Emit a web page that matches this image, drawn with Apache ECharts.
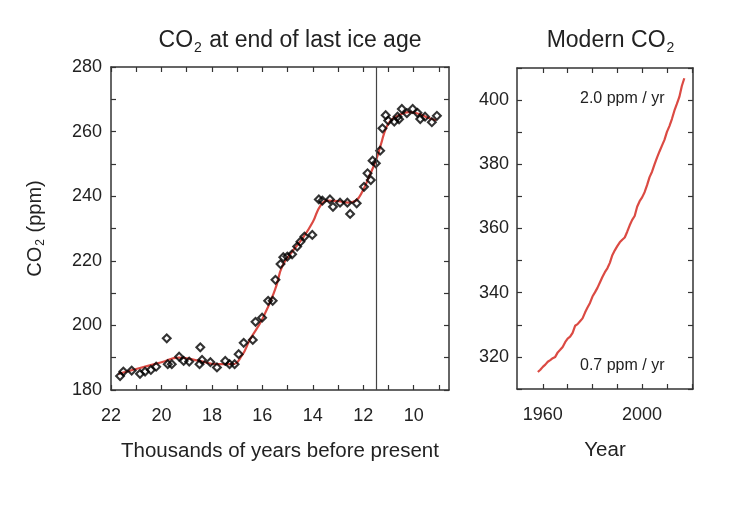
<!DOCTYPE html>
<html>
<head>
<meta charset="utf-8">
<script src="https://cdn.jsdelivr.net/npm/echarts@6/dist/echarts.min.js"></script>
<style>
  html, body { margin: 0; padding: 0; background: #fff; }
  #chart { width: 743px; height: 508px; }
</style>
</head>
<body>
<div id="chart"></div>
<script>
// ice core samples: [thousand years before present, ppm]
const iceAge = [21.64, 21.51, 21.18, 20.85, 20.65, 20.42, 20.21, 19.79, 19.75, 19.59,
  19.30, 19.12, 18.90, 18.49, 18.46, 18.39, 18.06, 17.80, 17.47, 17.30,
  17.10, 16.94, 16.74, 16.38, 16.27, 16.01, 15.77, 15.59, 15.48, 15.28,
  15.17, 15.01, 14.82, 14.62, 14.49, 14.33, 14.02, 13.76, 13.62, 13.32,
  13.20, 12.92, 12.63, 12.52, 12.26, 11.97, 11.83, 11.70, 11.63, 11.50,
  11.33, 11.24, 11.11, 11.01, 10.77, 10.64, 10.58, 10.47, 10.27, 10.04,
  9.85, 9.74, 9.55, 9.28, 9.08]
const iceCo2 = [184.3, 185.7, 186.0, 185.0, 185.7, 186.2, 187.2, 196.0, 188.0, 188.0,
  190.3, 189.0, 188.8, 188.0, 193.2, 189.3, 188.6, 187.0, 189.0, 188.0,
  188.0, 191.1, 194.6, 195.5, 201.1, 202.4, 207.6, 207.6, 214.1, 219.0,
  221.1, 221.3, 222.0, 224.4, 225.9, 227.5, 228.0, 239.0, 238.6, 239.0,
  236.7, 238.0, 238.0, 234.5, 237.8, 242.9, 247.1, 245.0, 251.0, 250.2,
  254.1, 261.0, 265.1, 263.4, 263.1, 264.6, 263.8, 267.0, 265.7, 267.0,
  265.8, 263.9, 264.6, 262.9, 264.9]

// smoothed fit (red curve)
const fitAge = [21.7, 21.0, 20.0, 19.3, 18.5, 17.8, 17.2, 16.8, 16.5, 16.0,
  15.5, 15.2, 14.8, 14.4, 14.0, 13.7, 13.4, 13.0, 12.6, 12.3,
  12.0, 11.8, 11.5, 11.3, 11.1, 10.9, 10.6, 10.2, 9.8, 9.4, 9.1]
const fitCo2 = [185.0, 186.5, 188.6, 190.0, 189.0, 188.0, 188.0, 190.8, 195.5, 202.0,
  211.0, 218.5, 223.0, 227.0, 232.0, 237.0, 238.6, 238.5, 238.0, 238.6,
  242.0, 245.5, 251.0, 256.0, 261.0, 263.5, 265.0, 266.0, 265.5, 264.2, 263.5]

// Mauna Loa annual means
const years = [1958, 1959, 1960, 1961, 1962, 1963, 1964, 1965, 1966, 1967,
  1968, 1969, 1970, 1971, 1972, 1973, 1974, 1975, 1976, 1977,
  1978, 1979, 1980, 1981, 1982, 1983, 1984, 1985, 1986, 1987,
  1988, 1989, 1990, 1991, 1992, 1993, 1994, 1995, 1996, 1997,
  1998, 1999, 2000, 2001, 2002, 2003, 2004, 2005, 2006, 2007,
  2008, 2009, 2010, 2011, 2012, 2013, 2014, 2015, 2016, 2017]
const modernCo2 = [315.3, 316.0, 316.9, 317.6, 318.5, 319.0, 319.6, 320.0, 321.4, 322.2,
  323.1, 324.6, 325.7, 326.3, 327.5, 329.7, 330.2, 331.1, 332.0, 333.8,
  335.4, 336.8, 338.8, 340.1, 341.5, 343.2, 344.9, 346.4, 347.6, 349.3,
  351.7, 353.2, 354.5, 355.7, 356.5, 357.2, 359.0, 361.0, 362.7, 363.9,
  366.8, 368.5, 369.7, 371.3, 373.5, 376.0, 377.7, 380.0, 382.1, 384.0,
  385.8, 387.6, 390.1, 391.9, 394.1, 396.7, 398.8, 401.0, 404.4, 406.8]

const ageTicks = [9, 10, 11, 12, 13, 14, 15, 16, 17, 18, 19, 20, 21, 22]
const ageLabels = [10, 12, 14, 16, 18, 20, 22]
const iceLabels = [180, 200, 220, 240, 260, 280]
const yearTicks = [1960, 1970, 1980, 1990, 2000, 2010, 2020]
const yearLabels = [1960, 2000]
const modernLabels = [320, 340, 360, 380, 400]
const iceBoundary = 11.5

const FONT = 'Liberation Sans, Arial, sans-serif'
const TXT = '#222'
const AX = '#333'

function subStyle (size) {
  return {
    a: { fontSize: size, color: TXT, fontFamily: FONT, fontWeight: 'normal' },
    s: { fontSize: Math.round(size * 0.6), color: TXT, fontFamily: FONT, fontWeight: 'normal', padding: [Math.round(size * 0.6), 1, 0, 1] }
  }
}

function boxAxis (opts) {
  return Object.assign({
    type: 'value',
    axisLine: { show: true, onZero: false, lineStyle: { color: AX, width: 1.5 } },
    axisTick: { show: true, inside: true, length: 5, lineStyle: { color: AX, width: 1.2 } },
    axisLabel: { show: false },
    splitLine: { show: false }
  }, opts)
}

function labels (values, margin) {
  return {
    show: true,
    customValues: values,
    color: TXT,
    fontSize: 18,
    fontFamily: FONT,
    margin: margin,
    formatter: v => String(v)
  }
}

const chart = echarts.init(document.getElementById('chart'))

const option = {
  animation: false,
  backgroundColor: '#fff',
  title: [
    {
      text: '{a|CO}{s|2}{a| at end of last ice age}',
      left: 285, top: 22, textAlign: 'center',
      textStyle: { rich: subStyle(23) }
    },
    {
      text: '{a|Modern CO}{s|2}',
      left: 606, top: 22, textAlign: 'center',
      textStyle: { rich: subStyle(23) }
    }
  ],
  grid: [
    { left: 111, top: 67, width: 338, height: 323 },
    { left: 517, top: 68, width: 176, height: 321 }
  ],
  xAxis: [
    boxAxis({
      gridIndex: 0, position: 'bottom', inverse: true, min: 8.6, max: 22,
      axisTick: { show: true, inside: true, length: 5, customValues: ageTicks, lineStyle: { color: AX, width: 1.2 } },
      axisLabel: labels(ageLabels, 17),
      name: 'Thousands of years before present',
      nameLocation: 'middle', nameGap: 51,
      nameTextStyle: { color: TXT, fontSize: 20.5, fontFamily: FONT }
    }),
    boxAxis({
      gridIndex: 0, position: 'top', inverse: true, min: 8.6, max: 22,
      axisTick: { show: true, inside: true, length: 5, customValues: ageTicks, lineStyle: { color: AX, width: 1.2 } }
    }),
    boxAxis({
      gridIndex: 1, position: 'bottom', min: 1949.6, max: 2020.5,
      axisTick: { show: true, inside: true, length: 5, customValues: yearTicks, lineStyle: { color: AX, width: 1.2 } },
      axisLabel: labels(yearLabels, 17),
      name: 'Year',
      nameLocation: 'middle', nameGap: 51,
      nameTextStyle: { color: TXT, fontSize: 20.5, fontFamily: FONT }
    }),
    boxAxis({
      gridIndex: 1, position: 'top', min: 1949.6, max: 2020.5,
      axisTick: { show: true, inside: true, length: 5, customValues: yearTicks, lineStyle: { color: AX, width: 1.2 } }
    })
  ],
  yAxis: [
    boxAxis({
      gridIndex: 0, position: 'left', min: 180, max: 280, interval: 10,
      axisLabel: labels(iceLabels, 9),
      name: '{a|CO}{s|2}{a| (ppm)}',
      nameLocation: 'middle', nameGap: 64, nameRotate: 90,
      nameTextStyle: { rich: subStyle(20) }
    }),
    boxAxis({ gridIndex: 0, position: 'right', min: 180, max: 280, interval: 10 }),
    boxAxis({
      gridIndex: 1, position: 'left', min: 310, max: 410, interval: 10,
      axisLabel: labels(modernLabels, 8)
    }),
    boxAxis({ gridIndex: 1, position: 'right', min: 310, max: 410, interval: 10 })
  ],
  graphic: [
    {
      type: 'text', left: 580, top: 91,
      style: { text: '2.0 ppm / yr', fill: TXT, font: '16px ' + FONT }
    },
    {
      type: 'text', left: 580, top: 358,
      style: { text: '0.7 ppm / yr', fill: TXT, font: '16px ' + FONT }
    }
  ],
  series: [
    {
      type: 'line',
      xAxisIndex: 0, yAxisIndex: 0,
      data: fitAge.map((a, i) => [a, fitCo2[i]]),
      smooth: 0.5,
      showSymbol: false,
      lineStyle: { color: '#db4a43', width: 2.2 },
      z: 3
    },
    {
      type: 'scatter',
      xAxisIndex: 0, yAxisIndex: 0,
      data: iceAge.map((a, i) => [a, iceCo2[i]]),
      symbol: 'rect',
      symbolRotate: 45,
      symbolSize: 5.5,
      itemStyle: { color: 'rgba(255,255,255,0)', borderColor: '#000', borderWidth: 2.1 },
      z: 4,
      markLine: {
        silent: true,
        symbol: 'none',
        label: { show: false },
        lineStyle: { color: '#444', width: 1.2, type: 'solid' },
        data: [{ xAxis: iceBoundary }]
      }
    },
    {
      type: 'line',
      xAxisIndex: 2, yAxisIndex: 2,
      data: years.map((y, i) => [y, modernCo2[i]]),
      showSymbol: false,
      lineStyle: { color: '#db4a43', width: 2.2 }
    }
  ]
}

chart.setOption(option)
</script>
</body>
</html>
